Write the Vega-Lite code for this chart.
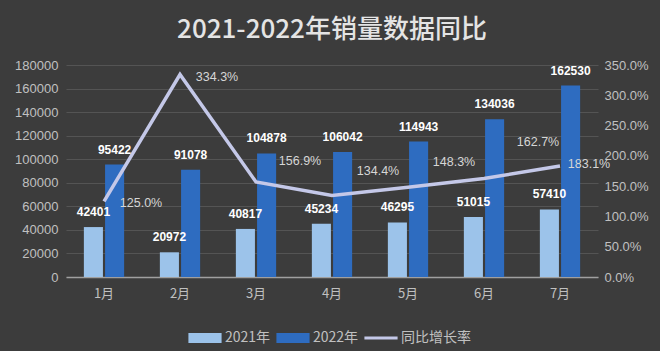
{
  "$schema": "https://vega.github.io/schema/vega-lite/v6.json",
  "width": 532,
  "height": 212,
  "autosize": {"type": "none"},
  "padding": {"left": 66, "top": 65, "right": 62, "bottom": 74},
  "background": "#3c3c3c",
  "title": {
    "text": "2021-2022年销量数据同比",
    "fontSize": 26,
    "font": "Noto Sans CJK SC",
    "fontWeight": 500,
    "color": "#e4e4e4",
    "anchor": "middle",
    "offset": 16
  },
  "datasets": {
    "sales": [
      {"month": "1月", "year": "2021年", "sales": 42401},
      {"month": "1月", "year": "2022年", "sales": 95422},
      {"month": "2月", "year": "2021年", "sales": 20972},
      {"month": "2月", "year": "2022年", "sales": 91078},
      {"month": "3月", "year": "2021年", "sales": 40817},
      {"month": "3月", "year": "2022年", "sales": 104878},
      {"month": "4月", "year": "2021年", "sales": 45234},
      {"month": "4月", "year": "2022年", "sales": 106042},
      {"month": "5月", "year": "2021年", "sales": 46295},
      {"month": "5月", "year": "2022年", "sales": 114943},
      {"month": "6月", "year": "2021年", "sales": 51015},
      {"month": "6月", "year": "2022年", "sales": 134036},
      {"month": "7月", "year": "2021年", "sales": 57410},
      {"month": "7月", "year": "2022年", "sales": 162530}
    ],
    "rate": [
      {"month": "1月", "rate": 1.25},
      {"month": "2月", "rate": 3.343},
      {"month": "3月", "rate": 1.569},
      {"month": "4月", "rate": 1.344},
      {"month": "5月", "rate": 1.483},
      {"month": "6月", "rate": 1.627},
      {"month": "7月", "rate": 1.831}
    ]
  },
  "encoding": {
    "x": {
      "field": "month",
      "type": "nominal",
      "sort": ["1月", "2月", "3月", "4月", "5月", "6月", "7月"],
      "scale": {"paddingInner": 0.47, "paddingOuter": 0.235},
      "axis": {
        "title": null,
        "labelAngle": 0,
        "labelColor": "#c0c0c0",
        "labelFontSize": 13,
        "labelFont": "Noto Sans CJK SC",
        "labelPadding": 10,
        "ticks": false,
        "domainColor": "#a0a0a0",
        "domainWidth": 1.5
      }
    }
  },
  "layer": [
    {
      "data": {"name": "sales"},
      "encoding": {
        "xOffset": {"field": "year", "type": "nominal", "scale": {"paddingInner": 0.1}},
        "y": {
          "field": "sales",
          "type": "quantitative",
          "scale": {"domain": [0, 180000]},
          "axis": {
            "title": null,
            "orient": "left",
            "values": [0, 20000, 40000, 60000, 80000, 100000, 120000, 140000, 160000, 180000],
            "format": "d",
            "grid": true,
            "gridColor": "#545454",
            "domain": false,
            "ticks": false,
            "labelColor": "#c0c0c0",
            "labelFontSize": 13,
            "labelFont": "Liberation Sans",
            "labelPadding": 8
          }
        }
      },
      "layer": [
        {
          "mark": {"type": "bar"},
          "encoding": {
            "color": {
              "field": "year",
              "type": "nominal",
              "scale": {
                "domain": ["2021年", "2022年", "同比增长率"],
                "range": ["#9cc3ea", "#2e6cc0", "#c4c8e8"]
              },
              "legend": {
                "title": null,
                "orient": "none",
                "legendX": 122,
                "legendY": 256,
                "direction": "horizontal",
                "labelColor": "#c0c0c0",
                "labelFontSize": 14,
                "labelFont": "Noto Sans CJK SC",
                "symbolSize": 1100,
                "columnPadding": 5,
                "labelOffset": 3,
                "encode": {
                  "symbols": {
                    "update": {
                      "shape": {"signal": "datum.value === '同比增长率' ? 'M-1,-0.09H1V0.09H-1Z' : 'M-1,-0.3H1V0.3H-1Z'"},
                      "fill": {"scale": "color", "field": "value"},
                      "stroke": {"value": "transparent"},
                      "strokeWidth": {"value": 0},
                      "opacity": {"value": 1}
                    }
                  }
                }
              }
            }
          }
        },
        {
          "mark": {"type": "text", "baseline": "bottom", "dy": -8, "color": "#ffffff", "fontWeight": "bold", "fontSize": 12, "font": "Liberation Sans"},
          "encoding": {"text": {"field": "sales", "type": "quantitative", "format": "d"}}
        }
      ]
    },
    {
      "data": {"name": "rate"},
      "encoding": {
        "y": {
          "field": "rate",
          "type": "quantitative",
          "scale": {"domain": [0, 3.5]},
          "axis": {
            "title": null,
            "orient": "right",
            "values": [0, 0.5, 1, 1.5, 2, 2.5, 3, 3.5],
            "format": ".1%",
            "grid": false,
            "domain": false,
            "ticks": false,
            "labelColor": "#c0c0c0",
            "labelFontSize": 13,
            "labelFont": "Liberation Sans",
            "labelPadding": 6
          }
        }
      },
      "layer": [
        {
          "mark": {"type": "line", "strokeWidth": 3.5},
          "encoding": {"color": {"datum": "同比增长率"}}
        },
        {
          "transform": [{"filter": "datum.month === '1月' || datum.month === '2月'"}],
          "mark": {"type": "text", "dx": 37, "dy": 2, "color": "#d6d6d6", "fontSize": 12.5, "font": "Liberation Sans"},
          "encoding": {"text": {"field": "rate", "type": "quantitative", "format": ".1%"}}
        },
        {
          "transform": [{"filter": "datum.month === '3月'"}],
          "mark": {"type": "text", "dx": 44, "dy": -21, "color": "#d6d6d6", "fontSize": 12.5, "font": "Liberation Sans"},
          "encoding": {"text": {"field": "rate", "type": "quantitative", "format": ".1%"}}
        },
        {
          "transform": [{"filter": "datum.month === '4月' || datum.month === '5月'"}],
          "mark": {"type": "text", "dx": 46, "dy": -25, "color": "#d6d6d6", "fontSize": 12.5, "font": "Liberation Sans"},
          "encoding": {"text": {"field": "rate", "type": "quantitative", "format": ".1%"}}
        },
        {
          "transform": [{"filter": "datum.month === '6月'"}],
          "mark": {"type": "text", "dx": 54, "dy": -36, "color": "#d6d6d6", "fontSize": 12.5, "font": "Liberation Sans"},
          "encoding": {"text": {"field": "rate", "type": "quantitative", "format": ".1%"}}
        },
        {
          "transform": [{"filter": "datum.month === '7月'"}],
          "mark": {"type": "text", "dx": 29, "dy": -2, "color": "#d6d6d6", "fontSize": 12.5, "font": "Liberation Sans"},
          "encoding": {"text": {"field": "rate", "type": "quantitative", "format": ".1%"}}
        }
      ]
    }
  ],
  "resolve": {"scale": {"y": "independent"}},
  "config": {"view": {"stroke": null}}
}
